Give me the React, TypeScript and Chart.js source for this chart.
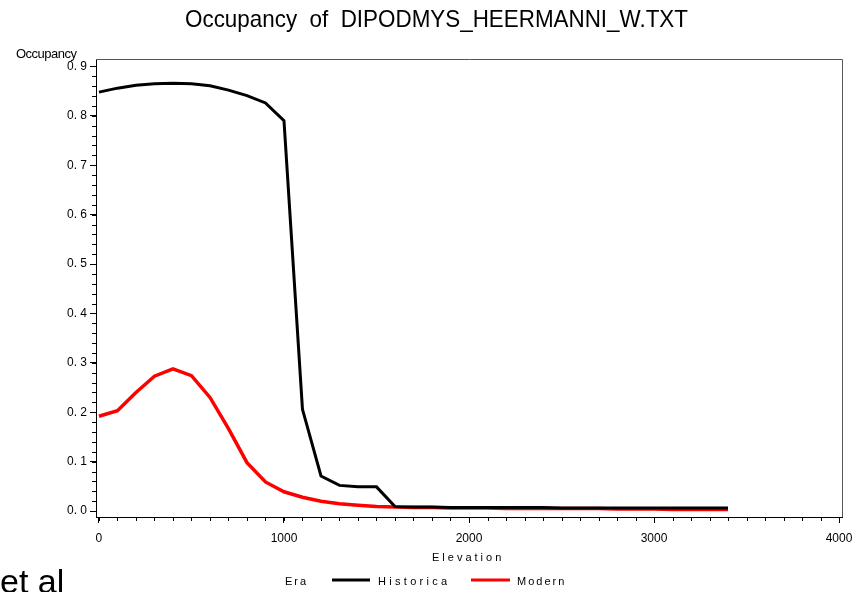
import React, { useEffect, useRef } from "react";
import { Chart, registerables } from "chart.js";

Chart.register(...registerables);

const elevations = [0, 100, 200, 300, 400, 500, 600, 700, 800, 900, 1000, 1100, 1200, 1300, 1400, 1500, 1600, 1700, 1800, 1900, 2000, 2100, 2200, 2300, 2400, 2500, 2600, 2700, 2800, 2900, 3000, 3100, 3200, 3300, 3400];
const historical = [0.848, 0.856, 0.862, 0.865, 0.866, 0.865, 0.861, 0.852, 0.841, 0.826, 0.79, 0.206, 0.071, 0.052, 0.049, 0.049, 0.009, 0.008, 0.008, 0.007, 0.007, 0.007, 0.007, 0.007, 0.007, 0.006, 0.006, 0.006, 0.006, 0.006, 0.006, 0.006, 0.006, 0.006, 0.006];
const modern = [0.192, 0.203, 0.24, 0.273, 0.288, 0.274, 0.23, 0.167, 0.098, 0.059, 0.039, 0.028, 0.02, 0.015, 0.012, 0.0095, 0.008, 0.007, 0.007, 0.006, 0.006, 0.006, 0.005, 0.005, 0.005, 0.005, 0.005, 0.005, 0.004, 0.004, 0.004, 0.003, 0.003, 0.003, 0.003];
const yTicks = [0, 0.1, 0.2, 0.3, 0.4, 0.5, 0.6, 0.7, 0.8, 0.9];
const xTicks = [0, 1000, 2000, 3000, 4000];
const yMinorStep = 0.02;
const xMinorStep = 100;
const titleText = "Occupancy  of  DIPODMYS_HEERMANNI_W.TXT";
const yTitle = "Occupancy";
const xTitle = "Elevation";
const legendTitle = "Era";
const seriesNames = ["Historica", "Modern"];
const seriesColors = ["#000000", "#ff0000"];

const FONT = "'Liberation Sans', Arial, sans-serif";

const decor = {
  id: "decor",
  afterDraw(chart: any) {
    const ctx = chart.ctx as CanvasRenderingContext2D;
    const { left, top, right, bottom } = chart.chartArea;
    const xs = chart.scales.x;
    const ys = chart.scales.y;
    ctx.save();
    // frame
    ctx.strokeStyle = "#555";
    ctx.lineWidth = 1;
    ctx.beginPath();
    ctx.moveTo(left, top + 0.5);
    ctx.lineTo(right + 0.5, top + 0.5);
    ctx.lineTo(right + 0.5, bottom);
    ctx.stroke();
    // minor ticks
    ctx.strokeStyle = "#000";
    ctx.beginPath();
    for (let v = 0; v <= 0.9 + 1e-9; v += yMinorStep) {
      const py = Math.round(ys.getPixelForValue(v)) + 0.5;
      ctx.moveTo(left - 4, py);
      ctx.lineTo(left, py);
    }
    for (let v = 0; v <= 4000; v += xMinorStep) {
      const px = Math.round(xs.getPixelForValue(v)) + 0.5;
      ctx.moveTo(px, bottom);
      ctx.lineTo(px, bottom + 4);
    }
    ctx.stroke();
    // title (condensed to match width)
    ctx.fillStyle = "#000";
    ctx.textBaseline = "middle";
    ctx.textAlign = "center";
    ctx.font = `24px ${FONT}`;
    const w = ctx.measureText(titleText).width;
    ctx.save();
    ctx.translate(436.5, 20);
    ctx.scale(503 / w, 1);
    ctx.fillText(titleText, 0, 0);
    ctx.restore();
    // y title
    ctx.font = `13px ${FONT}`;
    (ctx as any).letterSpacing = "-0.5px";
    ctx.textAlign = "left";
    ctx.fillText(yTitle, 16, 54);
    // x title
    (ctx as any).letterSpacing = "3px";
    ctx.font = `11px ${FONT}`;
    ctx.fillText(xTitle, 432, 558);
    // legend
    (ctx as any).letterSpacing = "2px";
    ctx.fillText(legendTitle, 285, 582);
    (ctx as any).letterSpacing = "3.3px";
    ctx.fillText(seriesNames[0], 378, 582);
    (ctx as any).letterSpacing = "2px";
    ctx.fillText(seriesNames[1], 517, 582);
    (ctx as any).letterSpacing = "0px";
    ctx.lineWidth = 3;
    ctx.strokeStyle = seriesColors[0];
    ctx.beginPath();
    ctx.moveTo(332, 580);
    ctx.lineTo(370, 580);
    ctx.stroke();
    ctx.strokeStyle = seriesColors[1];
    ctx.beginPath();
    ctx.moveTo(471, 580);
    ctx.lineTo(510, 580);
    ctx.stroke();
    ctx.restore();
  },
};

export default function App() {
  const ref = useRef<HTMLCanvasElement>(null);
  useEffect(() => {
    document.body.style.margin = "0";
    const chart = new Chart(ref.current!, {
      type: "line",
      data: {
        datasets: [
          {
            label: seriesNames[0],
            data: elevations.map((x, i) => ({ x, y: historical[i] })),
            borderColor: seriesColors[0],
            borderWidth: 3,
            pointRadius: 0,
            tension: 0,
          },
          {
            label: seriesNames[1],
            data: elevations.map((x, i) => ({ x, y: modern[i] })),
            borderColor: seriesColors[1],
            borderWidth: 3.5,
            pointRadius: 0,
            tension: 0,
          },
        ],
      },
      options: {
        animation: false,
        responsive: false,
        devicePixelRatio: 1,
        layout: { padding: { top: 59, right: 25, left: 0, bottom: 0 } },
        plugins: { legend: { display: false }, title: { display: false }, tooltip: { enabled: false } },
        scales: {
          x: {
            type: "linear",
            min: -16,
            max: 4016,
            afterBuildTicks: (s: any) => {
              s.ticks = xTicks.map((v) => ({ value: v }));
            },
            afterFit: (s: any) => {
              s.height = 75;
            },
            ticks: {
              color: "#000",
              font: { family: FONT, size: 12 },
              padding: 8,
              maxRotation: 0,
              callback: (v: any) => String(Math.round(Number(v))),
            },
            grid: { drawOnChartArea: false, tickLength: 6, tickColor: "#000" },
            border: { display: true, color: "#000" },
          },
          y: {
            type: "linear",
            min: -0.012,
            max: 0.915,
            afterBuildTicks: (s: any) => {
              s.ticks = yTicks.map((v) => ({ value: v }));
            },
            afterFit: (s: any) => {
              s.width = 96;
            },
            ticks: {
              color: "#000",
              font: { family: FONT, size: 12 },
              padding: 3,
              callback: (v: any) => Number(v).toFixed(1).replace(".", ". "),
            },
            grid: { drawOnChartArea: false, tickLength: 6, tickColor: "#000" },
            border: { display: true, color: "#000" },
          },
        },
      },
      plugins: [decor],
    });
    return () => chart.destroy();
  }, []);
  return (
    <div style={{ position: "absolute", left: 0, top: 0, width: 867, height: 592, overflow: "hidden", background: "#fff" }}>
      <canvas ref={ref} width={867} height={592} />
      <div style={{ position: "absolute", left: 0, top: 564, fontFamily: FONT, fontSize: 34, color: "#000", lineHeight: 1 }}>et al</div>
    </div>
  );
}
